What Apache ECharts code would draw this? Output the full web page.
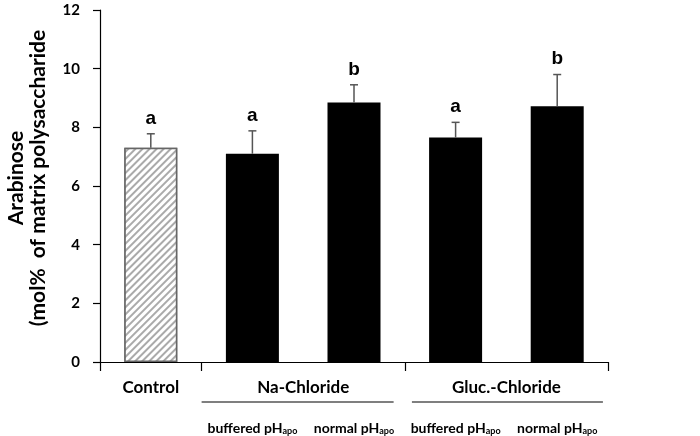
<!DOCTYPE html>
<html>
<head>
<meta charset="utf-8">
<script src="https://cdn.jsdelivr.net/npm/echarts@6/dist/echarts.min.js"></script>
<style>html,body{margin:0;padding:0;background:#fff;}#c{width:700px;height:436px;}</style>
</head>
<body>
<div id="c"></div>
<script>
const categories = ['Control', 'Na buffered', 'Na normal', 'Gluc buffered', 'Gluc normal'];
const subLabels = ['', 'buffered pH', 'normal pH', 'buffered pH', 'normal pH'];
const means = [7.3, 7.1, 8.85, 7.65, 8.72];
const errors = [0.48, 0.78, 0.6, 0.52, 1.08];
const letters = ['a', 'a', 'b', 'a', 'b'];
const groupNames = ['Control', 'Na-Chloride', 'Gluc.-Chloride'];
const groupCenters = [0.5, 2, 4];
const groupBoundaries = [0, 1, 3, 5];
const yTitle = ['Arabinose', '(mol%  of matrix polysaccharide'];

const chart = echarts.init(document.getElementById('c'), null, {renderer: 'canvas'});
const font = 'Lato, "Open Sans", sans-serif';

const option = {
  animation: false,
  grid: {left: 100, right: 92, top: 10, bottom: 74},
  xAxis: [{
    type: 'category',
    data: categories,
    axisLine: {lineStyle: {color: '#000', width: 1.2}},
    axisTick: {show: false},
    axisLabel: {
      interval: 0,
      margin: 58,
      formatter: (v, i) => subLabels[i] ? '{m|' + subLabels[i] + '}{s|apo}' : '',
      rich: {
        m: {fontFamily: font, fontWeight: 'bold', fontSize: 14, color: '#000'},
        s: {fontFamily: font, fontWeight: 'bold', fontSize: 9, color: '#000', padding: [7, 0, 0, 0]}
      }
    }
  }, {
    type: 'value',
    min: 0, max: 5,
    position: 'bottom',
    axisLine: {show: false},
    splitLine: {show: false},
    axisTick: {show: true, customValues: groupBoundaries, length: 9, lineStyle: {color: '#000', width: 1.2}},
    axisLabel: {
      customValues: groupCenters,
      formatter: (v) => groupNames[groupCenters.indexOf(v)],
      margin: 17,
      fontFamily: font, fontWeight: 'bold', fontSize: 17, color: '#000'
    }
  }],
  yAxis: {
    type: 'value',
    min: 0, max: 12, interval: 2,
    axisLine: {show: true, lineStyle: {color: '#000', width: 1.2}},
    axisTick: {show: true, length: 7, lineStyle: {color: '#000', width: 1.2}},
    splitLine: {show: false},
    axisLabel: {margin: 20, fontFamily: font, fontWeight: 'bold', fontSize: 15, color: '#000'}
  },
  series: [{
    type: 'bar',
    barWidth: 53,
    data: means.map((v, i) => i === 0 ? {
      value: v,
      itemStyle: {
        color: '#fff', borderColor: '#666', borderWidth: 1.5,
        decal: {symbol: 'rect', symbolSize: 1, dashArrayX: [1, 0], dashArrayY: [1.8, 2.2], rotation: -Math.PI / 4, color: '#aaa', backgroundColor: '#fff'}
      }
    } : {value: v, itemStyle: {color: '#000'}})
  }, {
    type: 'custom',
    data: means.map((v, i) => [i, v, v + errors[i]]),
    renderItem: (params, api) => {
      const i = api.value(0);
      const base = api.coord([i, api.value(1)]);
      const top = api.coord([i, api.value(2)]);
      return {
        type: 'group',
        children: [
          {type: 'line', shape: {x1: base[0], y1: base[1], x2: top[0], y2: top[1]}, style: {stroke: '#555', lineWidth: 1.5}},
          {type: 'line', shape: {x1: top[0] - 4, y1: top[1], x2: top[0] + 4, y2: top[1]}, style: {stroke: '#555', lineWidth: 1.5}},
          {type: 'text', x: top[0], y: top[1] - 6, style: {text: letters[i], textAlign: 'center', textVerticalAlign: 'bottom', font: 'bold 19px "Liberation Sans", Arial, sans-serif', fill: '#000'}}
        ]
      };
    },
    z: 5
  }],
  graphic: [{
    type: 'text', x: 27, y: 178, rotation: Math.PI / 2,
    style: {text: yTitle.join('\n'), textAlign: 'center', textVerticalAlign: 'middle', font: 'bold 21px ' + font, fill: '#000', lineHeight: 22}
  }]
};
chart.setOption(option);

const yLine = 402;
const ranges = [[1, 2.89], [3.07, 4.95]];
chart.setOption({
  graphic: option.graphic.concat(ranges.map(r => ({
    type: 'line',
    shape: {x1: chart.convertToPixel({xAxisIndex: 1}, r[0]), y1: yLine, x2: chart.convertToPixel({xAxisIndex: 1}, r[1]), y2: yLine},
    style: {stroke: '#000', lineWidth: 1.2}
  })))
});
</script>
</body>
</html>
